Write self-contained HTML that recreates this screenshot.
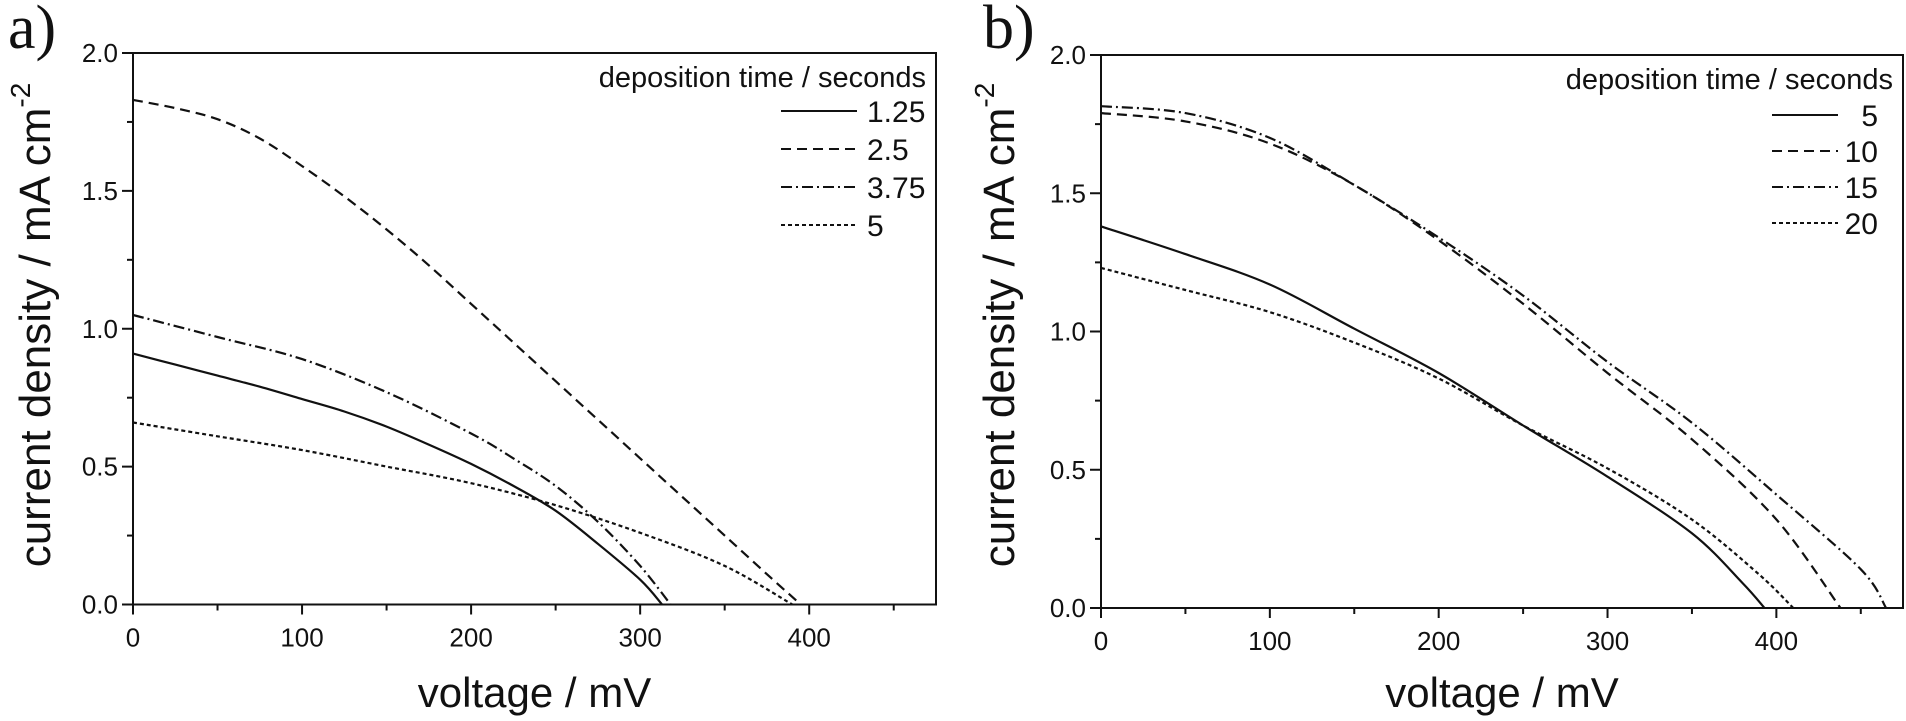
<!DOCTYPE html>
<html><head><meta charset="utf-8"><style>
html,body{margin:0;padding:0;background:#fff;}
svg{display:block;font-family:"Liberation Sans",sans-serif;}
</style></head><body>
<svg id="chart" width="1906" height="721" viewBox="0 0 1906 721"></svg>
<script>
const xTicks = [0,100,200,300,400];
const yTicks = [0.0,0.5,1.0,1.5,2.0];
const voltA = {
  s125: [0,25,50,75,100,125,150,175,200,225,250,275,300,313],
  s25:  [0,25,50,75,100,125,150,175,200,225,250,275,300,325,350,375,395],
  s375: [0,50,100,150,200,225,250,275,300,318],
  s5:   [0,50,100,150,200,250,300,350,390]
};
const curA = {
  s125: [0.91,0.87,0.83,0.79,0.745,0.70,0.645,0.58,0.51,0.43,0.34,0.22,0.09,0],
  s25:  [1.83,1.80,1.76,1.69,1.59,1.48,1.36,1.23,1.09,0.95,0.81,0.67,0.53,0.39,0.25,0.11,0],
  s375: [1.05,0.97,0.89,0.77,0.62,0.53,0.43,0.30,0.14,0],
  s5:   [0.66,0.61,0.56,0.50,0.44,0.36,0.26,0.14,0]
};
const voltB = {
  s5:  [0,50,100,150,200,250,300,350,380,393],
  s10: [0,50,100,150,200,250,300,350,400,438],
  s15: [0,50,100,150,200,250,300,350,400,450,465],
  s20: [0,50,100,150,200,250,300,350,390,410]
};
const curB = {
  s5:  [1.38,1.28,1.17,1.01,0.85,0.66,0.475,0.27,0.09,0],
  s10: [1.79,1.76,1.68,1.53,1.33,1.10,0.85,0.61,0.32,0],
  s15: [1.815,1.79,1.70,1.53,1.34,1.13,0.89,0.67,0.41,0.14,0],
  s20: [1.23,1.15,1.07,0.96,0.83,0.66,0.505,0.32,0.12,0]
};
const labelsA = ["1.25","2.5","3.75","5"];
const labelsB = ["5","10","15","20"];
const dashes = ["", "10 6", "11 4 2 4", "4 3"];

const NS="http://www.w3.org/2000/svg";
const svg=document.getElementById('chart');
function mk(tag,attrs,parent){const e=document.createElementNS(NS,tag);for(const k in attrs)e.setAttribute(k,attrs[k]);(parent||svg).appendChild(e);return e;}
function smooth(pts){
  let d='M'+pts[0][0].toFixed(1)+' '+pts[0][1].toFixed(1);
  for(let i=0;i<pts.length-1;i++){
    const p0=pts[i-1]||pts[i],p1=pts[i],p2=pts[i+1],p3=pts[i+2]||p2;
    const c1=[p1[0]+(p2[0]-p0[0])/6,p1[1]+(p2[1]-p0[1])/6];
    const c2=[p2[0]-(p3[0]-p1[0])/6,p2[1]-(p3[1]-p1[1])/6];
    d+=` C${c1[0].toFixed(1)} ${c1[1].toFixed(1)} ${c2[0].toFixed(1)} ${c2[1].toFixed(1)} ${p2[0].toFixed(1)} ${p2[1].toFixed(1)}`;
  }
  return d;
}

function panel(p){
  const g=mk('g',{});
  
  
  const xs=v=>p.L+(v/475)*(p.R-p.L);
  const ys=v=>p.B-(v/2.0)*(p.B-p.T);
  const fr=mk('rect',{x:p.L,y:p.T,width:p.R-p.L,height:p.B-p.T,fill:'none',stroke:'#111','stroke-width':2},g);
  
  
  for(let v=0;v<=450;v+=50){
    const major=v%100===0;
    const t=mk('line',{x1:xs(v),x2:xs(v),y1:p.B,y2:p.B+(major?10:6),stroke:'#111','stroke-width':2},g);
    
    
  }
  xTicks.forEach(v=>{
    const t=mk('text',{x:xs(v),y:p.B+42,'font-size':26,'text-anchor':'middle',fill:'#111'},g);
    t.textContent=v;
    
    
  });
  for(let v=0;v<=2.0001;v+=0.25){
    const major=Math.abs(v*2-Math.round(v*2))<1e-6;
    const t=mk('line',{x1:p.L-(major?11:6),x2:p.L,y1:ys(v),y2:ys(v),stroke:'#111','stroke-width':2},g);
    
    
  }
  yTicks.forEach(v=>{
    const t=mk('text',{x:p.L-15,y:ys(v)+9,'font-size':26,'text-anchor':'end',fill:'#111'},g);
    t.textContent=v.toFixed(1);
    
    
  });
  const xt=mk('text',{x:(p.L+p.R)/2,y:707,'font-size':42,'text-anchor':'middle',fill:'#111'},g);
  xt.textContent='voltage / mV';
  
  
  const yt=mk('text',{x:0,y:0,'font-size':44,'text-anchor':'middle',fill:'#111',transform:`translate(${p.ytx},325) rotate(-90)`},g);
  
  
  yt.appendChild(document.createTextNode('current density / mA cm'));
  const sup=mk('tspan',{'font-size':28,dy:-20},yt);
  sup.textContent='-2';
  const pl=mk('text',{x:p.lx,y:48,'font-size':62,fill:'#111','font-family':'"Liberation Serif",serif'},g);
  pl.textContent=p.id+')';
  
  
  p.keys.forEach((k,i)=>{
    const pts=p.volt[k].map((v,j)=>[xs(v),ys(p.cur[k][j])]);
    const c=mk('path',{d:smooth(pts),fill:'none',stroke:'#111','stroke-width':2.2,'stroke-dasharray':dashes[i]||'none','stroke-linejoin':'round'},g);
    
    
  });
  const lg=mk('g',{},g);
  
  
  const tt=mk('text',{x:p.R-p.tOff,y:p.T+34,'font-size':29,'text-anchor':'end',fill:'#111'},lg);
  tt.textContent='deposition time / seconds';
  
  
  p.labels.forEach((lab,i)=>{
    const yy=p.T+p.r0+i*p.dr;
    const ln=mk('line',{x1:p.R-p.l1,x2:p.R-p.l2,y1:yy,y2:yy,stroke:'#111','stroke-width':2,'stroke-dasharray':dashes[i]||'none'},lg);
    
    
    const tx=mk('text',{x:p.anchor==='start'?p.R-p.l2+10:p.R-25,y:yy+11,'font-size':30,'text-anchor':p.anchor,fill:'#111'},lg);
    tx.textContent=lab;
    
    
  });
}
panel({id:'a',L:133,R:936,T:53,B:604.5,ytx:50,lx:8,tOff:10,l1:155,l2:79,r0:58,dr:38,anchor:'start',volt:voltA,cur:curA,keys:['s125','s25','s375','s5'],labels:labelsA});
panel({id:'b',L:1101,R:1903,T:55,B:608,ytx:1014,lx:983,tOff:10,l1:131,l2:65,r0:60,dr:36,anchor:'end',volt:voltB,cur:curB,keys:['s5','s10','s15','s20'],labels:labelsB});
</script>
</body></html>
